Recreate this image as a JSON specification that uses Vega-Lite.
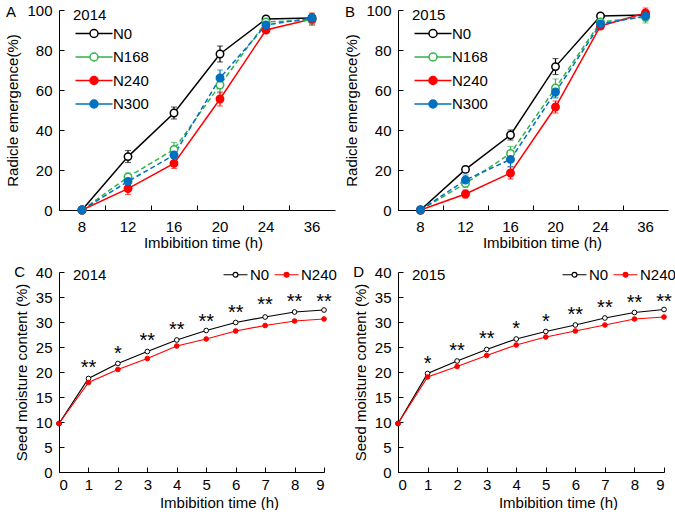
{
  "$schema": "https://vega.github.io/schema/vega-lite/v6.json",
  "padding": {"left": 5, "top": 3, "right": 0, "bottom": 0},
  "background": "white",
  "config": {
    "font": "Liberation Sans",
    "view": {"stroke": null},
    "axis": {"domainColor": "black", "tickColor": "black", "labelColor": "black", "titleColor": "black", "labelFontSize": 15, "titleFontSize": 15, "titleFontWeight": "normal", "grid": false, "tickSize": -5, "domainWidth": 1, "tickWidth": 1},
    "axisY": {"labelPadding": 12, "titlePadding": 6},
    "legend": {"labelFontSize": 15, "titleFontSize": 15, "titleFontWeight": "normal", "labelColor": "black", "titleColor": "black"},
    "title": {"fontSize": 15, "fontWeight": "normal", "color": "black"}
  },
  "datasets": {
    "y2014": [
      {"t": 8, "N": "N0", "v": 0, "e": 0}, {"t": 12, "N": "N0", "v": 26.7, "e": 3}, {"t": 16, "N": "N0", "v": 48.5, "e": 3}, {"t": 20, "N": "N0", "v": 78, "e": 4}, {"t": 24, "N": "N0", "v": 95.5, "e": 1}, {"t": 36, "N": "N0", "v": 96, "e": 1.5},
      {"t": 8, "N": "N168", "v": 0, "e": 0}, {"t": 12, "N": "N168", "v": 16.5, "e": 2}, {"t": 16, "N": "N168", "v": 30.3, "e": 3.5}, {"t": 20, "N": "N168", "v": 62.5, "e": 4}, {"t": 24, "N": "N168", "v": 94, "e": 1.5}, {"t": 36, "N": "N168", "v": 95, "e": 2.5},
      {"t": 8, "N": "N240", "v": 0, "e": 0}, {"t": 12, "N": "N240", "v": 10.7, "e": 3}, {"t": 16, "N": "N240", "v": 23.3, "e": 2.5}, {"t": 20, "N": "N240", "v": 55.5, "e": 3.5}, {"t": 24, "N": "N240", "v": 90, "e": 1.5}, {"t": 36, "N": "N240", "v": 95.5, "e": 3},
      {"t": 8, "N": "N300", "v": 0, "e": 0}, {"t": 12, "N": "N300", "v": 14.3, "e": 2}, {"t": 16, "N": "N300", "v": 27.5, "e": 3}, {"t": 20, "N": "N300", "v": 66, "e": 4}, {"t": 24, "N": "N300", "v": 92.5, "e": 1.5}, {"t": 36, "N": "N300", "v": 96, "e": 2}
    ],
    "y2015": [
      {"t": 8, "N": "N0", "v": 0, "e": 0}, {"t": 12, "N": "N0", "v": 20.3, "e": 1.5}, {"t": 16, "N": "N0", "v": 37.5, "e": 2.5}, {"t": 20, "N": "N0", "v": 71.7, "e": 4}, {"t": 24, "N": "N0", "v": 97, "e": 0.5}, {"t": 36, "N": "N0", "v": 97.5, "e": 1},
      {"t": 8, "N": "N168", "v": 0, "e": 0}, {"t": 12, "N": "N168", "v": 13.3, "e": 2}, {"t": 16, "N": "N168", "v": 28.3, "e": 3.5}, {"t": 20, "N": "N168", "v": 61, "e": 4.5}, {"t": 24, "N": "N168", "v": 94, "e": 1.5}, {"t": 36, "N": "N168", "v": 96.5, "e": 3},
      {"t": 8, "N": "N240", "v": 0, "e": 0}, {"t": 12, "N": "N240", "v": 8, "e": 2}, {"t": 16, "N": "N240", "v": 18.5, "e": 3}, {"t": 20, "N": "N240", "v": 51.5, "e": 3}, {"t": 24, "N": "N240", "v": 92, "e": 1.5}, {"t": 36, "N": "N240", "v": 98.5, "e": 2.5},
      {"t": 8, "N": "N300", "v": 0, "e": 0}, {"t": 12, "N": "N300", "v": 15, "e": 2.5}, {"t": 16, "N": "N300", "v": 25.3, "e": 3.5}, {"t": 20, "N": "N300", "v": 59, "e": 3}, {"t": 24, "N": "N300", "v": 93, "e": 1.5}, {"t": 36, "N": "N300", "v": 97, "e": 2.5}
    ],
    "m2014": [
      {"t": 0, "N": "N0", "v": 9.7}, {"t": 1, "N": "N0", "v": 18.7}, {"t": 2, "N": "N0", "v": 21.7}, {"t": 3, "N": "N0", "v": 24.1}, {"t": 4, "N": "N0", "v": 26.4}, {"t": 5, "N": "N0", "v": 28.3}, {"t": 6, "N": "N0", "v": 29.9}, {"t": 7, "N": "N0", "v": 31.0}, {"t": 8, "N": "N0", "v": 32.0}, {"t": 9, "N": "N0", "v": 32.4},
      {"t": 0, "N": "N240", "v": 9.7}, {"t": 1, "N": "N240", "v": 17.9}, {"t": 2, "N": "N240", "v": 20.5}, {"t": 3, "N": "N240", "v": 22.7}, {"t": 4, "N": "N240", "v": 25.2}, {"t": 5, "N": "N240", "v": 26.6}, {"t": 6, "N": "N240", "v": 28.2}, {"t": 7, "N": "N240", "v": 29.3}, {"t": 8, "N": "N240", "v": 30.2}, {"t": 9, "N": "N240", "v": 30.6}
    ],
    "m2015": [
      {"t": 0, "N": "N0", "v": 9.7}, {"t": 1, "N": "N0", "v": 19.7}, {"t": 2, "N": "N0", "v": 22.2}, {"t": 3, "N": "N0", "v": 24.5}, {"t": 4, "N": "N0", "v": 26.6}, {"t": 5, "N": "N0", "v": 28.1}, {"t": 6, "N": "N0", "v": 29.4}, {"t": 7, "N": "N0", "v": 30.8}, {"t": 8, "N": "N0", "v": 31.9}, {"t": 9, "N": "N0", "v": 32.5},
      {"t": 0, "N": "N240", "v": 9.7}, {"t": 1, "N": "N240", "v": 19.0}, {"t": 2, "N": "N240", "v": 21.1}, {"t": 3, "N": "N240", "v": 23.3}, {"t": 4, "N": "N240", "v": 25.4}, {"t": 5, "N": "N240", "v": 27.0}, {"t": 6, "N": "N240", "v": 28.2}, {"t": 7, "N": "N240", "v": 29.4}, {"t": 8, "N": "N240", "v": 30.6}, {"t": 9, "N": "N240", "v": 31.0}
    ],
    "s2014": [
      {"t": 1, "s": "**", "v": 21.9}, {"t": 2, "s": "*", "v": 24.7}, {"t": 3, "s": "**", "v": 27.2}, {"t": 4, "s": "**", "v": 29.4}, {"t": 5, "s": "**", "v": 31.1}, {"t": 6, "s": "**", "v": 32.9}, {"t": 7, "s": "**", "v": 34.4}, {"t": 8, "s": "**", "v": 35.1}, {"t": 9, "s": "**", "v": 35.1}
    ],
    "s2015": [
      {"t": 1, "s": "*", "v": 22.7}, {"t": 2, "s": "**", "v": 25.3}, {"t": 3, "s": "**", "v": 27.6}, {"t": 4, "s": "*", "v": 29.6}, {"t": 5, "s": "*", "v": 31.1}, {"t": 6, "s": "**", "v": 32.4}, {"t": 7, "s": "**", "v": 33.8}, {"t": 8, "s": "**", "v": 34.9}, {"t": 9, "s": "**", "v": 35.1}
    ]
  },
  "columns": 2,
  "spacing": {"row": 62, "column": 63},
  "bounds": "flush",
  "resolve": {
    "scale": {"x": "independent", "y": "independent", "color": "independent", "fill": "independent"},
    "axis": {"x": "independent", "y": "independent"},
    "legend": {"color": "independent", "fill": "independent"}
  },
  "concat": [
    {
      "width": 276, "height": 200,
      "title": {"text": "A", "anchor": "start", "frame": "bounds", "offset": -17},
      "data": {"name": "y2014"},
      "encoding": {
        "x": {"field": "t", "type": "ordinal", "bandPosition": 0.5, "scale": {"type": "band", "paddingInner": 0, "paddingOuter": 0}, "axis": {"title": "Imbibition time (h)", "bandPosition": 0, "labelAngle": 0, "titleX": 144, "labelPadding": 14, "titlePadding": 1}},
        "y": {"field": "v", "type": "quantitative", "scale": {"domain": [0, 100]}, "axis": {"values": [0, 20, 40, 60, 80, 100], "title": "Radicle emergence(%)"}},
        "color": {"field": "N", "type": "nominal", "scale": {"domain": ["N0", "N168", "N240", "N300"], "range": ["#000000", "#33b34a", "#ff0000", "#0070c0"]},
          "legend": {"title": "2014", "orient": "none", "legendX": 14, "legendY": -2, "symbolType": "M-1,0H1.9M3.5,0H6.4M3.5,0A0.8,0.8,0,1,1,1.9,0A0.8,0.8,0,1,1,3.5,0Z", "symbolSize": 100, "symbolStrokeWidth": 1.5, "symbolOpacity": 1, "labelOffset": 25, "rowPadding": 7.5, "titlePadding": 3}}
      },
      "layer": [
        {"transform": [{"filter": {"field": "N", "oneOf": ["N0", "N240"]}}], "mark": {"type": "line", "strokeWidth": 1.5}},
        {"transform": [{"filter": {"field": "N", "oneOf": ["N168", "N300"]}}], "mark": {"type": "line", "strokeWidth": 1.5, "strokeDash": [5, 3]}},
        {"transform": [{"filter": {"field": "N", "equal": "N0"}}], "mark": {"type": "errorbar", "ticks": {"size": 6}, "rule": {"strokeWidth": 1.2}}, "encoding": {"yError": {"field": "e"}, "color": {"value": "#000000"}}},
        {"transform": [{"filter": {"field": "N", "equal": "N168"}}], "mark": {"type": "errorbar", "ticks": {"size": 6}, "rule": {"strokeWidth": 1.2}}, "encoding": {"yError": {"field": "e"}, "color": {"value": "#33b34a"}}},
        {"transform": [{"filter": {"field": "N", "equal": "N240"}}], "mark": {"type": "errorbar", "ticks": {"size": 6}, "rule": {"strokeWidth": 1.2}}, "encoding": {"yError": {"field": "e"}, "color": {"value": "#ff0000"}}},
        {"transform": [{"filter": {"field": "N", "equal": "N300"}}], "mark": {"type": "errorbar", "ticks": {"size": 6}, "rule": {"strokeWidth": 1.2}}, "encoding": {"yError": {"field": "e"}, "color": {"value": "#0070c0"}}},
        {"mark": {"type": "point", "filled": false, "size": 55, "strokeWidth": 1.5, "opacity": 1}, "encoding": {"fill": {"field": "N", "type": "nominal", "scale": {"domain": ["N0", "N168", "N240", "N300"], "range": ["#ffffff", "#ffffff", "#ff0000", "#0070c0"]},
          "legend": {"title": "2014", "orient": "none", "legendX": 14, "legendY": -2, "symbolType": "M-1,0H1.9M3.5,0H6.4M3.5,0A0.8,0.8,0,1,1,1.9,0A0.8,0.8,0,1,1,3.5,0Z", "symbolSize": 100, "symbolStrokeWidth": 1.5, "symbolOpacity": 1, "labelOffset": 25, "rowPadding": 7.5, "titlePadding": 3}}}}
      ]
    },
    {
      "width": 270, "height": 200,
      "title": {"text": "B", "anchor": "start", "frame": "bounds", "offset": -17},
      "data": {"name": "y2015"},
      "encoding": {
        "x": {"field": "t", "type": "ordinal", "bandPosition": 0.5, "scale": {"type": "band", "paddingInner": 0, "paddingOuter": 0}, "axis": {"title": "Imbibition time (h)", "bandPosition": 0, "labelAngle": 0, "titleX": 144, "labelPadding": 14, "titlePadding": 1}},
        "y": {"field": "v", "type": "quantitative", "scale": {"domain": [0, 100]}, "axis": {"values": [0, 20, 40, 60, 80, 100], "title": "Radicle emergence(%)"}},
        "color": {"field": "N", "type": "nominal", "scale": {"domain": ["N0", "N168", "N240", "N300"], "range": ["#000000", "#33b34a", "#ff0000", "#0070c0"]},
          "legend": {"title": "2015", "orient": "none", "legendX": 14, "legendY": -2, "symbolType": "M-1,0H1.9M3.5,0H6.4M3.5,0A0.8,0.8,0,1,1,1.9,0A0.8,0.8,0,1,1,3.5,0Z", "symbolSize": 100, "symbolStrokeWidth": 1.5, "symbolOpacity": 1, "labelOffset": 25, "rowPadding": 7.5, "titlePadding": 3}}
      },
      "layer": [
        {"transform": [{"filter": {"field": "N", "oneOf": ["N0", "N240"]}}], "mark": {"type": "line", "strokeWidth": 1.5}},
        {"transform": [{"filter": {"field": "N", "oneOf": ["N168", "N300"]}}], "mark": {"type": "line", "strokeWidth": 1.5, "strokeDash": [5, 3]}},
        {"transform": [{"filter": {"field": "N", "equal": "N0"}}], "mark": {"type": "errorbar", "ticks": {"size": 6}, "rule": {"strokeWidth": 1.2}}, "encoding": {"yError": {"field": "e"}, "color": {"value": "#000000"}}},
        {"transform": [{"filter": {"field": "N", "equal": "N168"}}], "mark": {"type": "errorbar", "ticks": {"size": 6}, "rule": {"strokeWidth": 1.2}}, "encoding": {"yError": {"field": "e"}, "color": {"value": "#33b34a"}}},
        {"transform": [{"filter": {"field": "N", "equal": "N240"}}], "mark": {"type": "errorbar", "ticks": {"size": 6}, "rule": {"strokeWidth": 1.2}}, "encoding": {"yError": {"field": "e"}, "color": {"value": "#ff0000"}}},
        {"transform": [{"filter": {"field": "N", "equal": "N300"}}], "mark": {"type": "errorbar", "ticks": {"size": 6}, "rule": {"strokeWidth": 1.2}}, "encoding": {"yError": {"field": "e"}, "color": {"value": "#0070c0"}}},
        {"mark": {"type": "point", "filled": false, "size": 55, "strokeWidth": 1.5, "opacity": 1}, "encoding": {"fill": {"field": "N", "type": "nominal", "scale": {"domain": ["N0", "N168", "N240", "N300"], "range": ["#ffffff", "#ffffff", "#ff0000", "#0070c0"]},
          "legend": {"title": "2015", "orient": "none", "legendX": 14, "legendY": -2, "symbolType": "M-1,0H1.9M3.5,0H6.4M3.5,0A0.8,0.8,0,1,1,1.9,0A0.8,0.8,0,1,1,3.5,0Z", "symbolSize": 100, "symbolStrokeWidth": 1.5, "symbolOpacity": 1, "labelOffset": 25, "rowPadding": 7.5, "titlePadding": 3}}}}
      ]
    },
    {
      "width": 265, "height": 200,
      "title": {"text": "C", "anchor": "start", "frame": "bounds", "offset": -15},
      "encoding": {
        "x": {"field": "t", "type": "quantitative", "scale": {"domain": [0, 9], "nice": false}, "axis": {"values": [0, 1, 2, 3, 4, 5, 6, 7, 8, 9], "title": "Imbibition time (h)", "titleX": 160, "labelPadding": 10, "titlePadding": 3}},
        "y": {"field": "v", "type": "quantitative", "scale": {"domain": [0, 40]}, "axis": {"values": [0, 5, 10, 15, 20, 25, 30, 35, 40], "title": "Seed moisture content (%)"}}
      },
      "layer": [
        {"data": {"name": "m2014"}, "mark": {"type": "line", "strokeWidth": 1.2},
          "encoding": {"color": {"field": "N", "type": "nominal", "scale": {"domain": ["N0", "N240"], "range": ["#000000", "#ff0000"]},
            "legend": {"title": "2014", "titleOrient": "left", "titlePadding": 112, "orient": "none", "legendX": 14, "legendY": -5, "direction": "horizontal", "symbolType": "M-1,0H2.2M3.8,0H7M3.8,0A0.8,0.8,0,1,1,2.2,0A0.8,0.8,0,1,1,3.8,0Z", "symbolSize": 36, "symbolStrokeWidth": 1.2, "symbolOpacity": 1, "labelOffset": 16, "columnPadding": -13}}}},
        {"data": {"name": "m2014"}, "mark": {"type": "point", "filled": false, "size": 22, "strokeWidth": 1, "opacity": 1},
          "encoding": {"color": {"field": "N", "type": "nominal", "scale": {"domain": ["N0", "N240"], "range": ["#000000", "#ff0000"]},
            "legend": {"title": "2014", "titleOrient": "left", "titlePadding": 112, "orient": "none", "legendX": 14, "legendY": -5, "direction": "horizontal", "symbolType": "M-1,0H2.2M3.8,0H7M3.8,0A0.8,0.8,0,1,1,2.2,0A0.8,0.8,0,1,1,3.8,0Z", "symbolSize": 36, "symbolStrokeWidth": 1.2, "symbolOpacity": 1, "labelOffset": 16, "columnPadding": -13}},
            "fill": {"field": "N", "type": "nominal", "scale": {"domain": ["N0", "N240"], "range": ["#ffffff", "#ff0000"]},
            "legend": {"title": "2014", "titleOrient": "left", "titlePadding": 112, "orient": "none", "legendX": 14, "legendY": -5, "direction": "horizontal", "symbolType": "M-1,0H2.2M3.8,0H7M3.8,0A0.8,0.8,0,1,1,2.2,0A0.8,0.8,0,1,1,3.8,0Z", "symbolSize": 36, "symbolStrokeWidth": 1.2, "symbolOpacity": 1, "labelOffset": 16, "columnPadding": -13}}}},
        {"data": {"name": "s2014"}, "mark": {"type": "text", "fontSize": 20, "dy": 11, "baseline": "alphabetic", "color": "black"},
          "encoding": {"text": {"field": "s", "type": "nominal"}}}
      ]
    },
    {
      "width": 266, "height": 200,
      "title": {"text": "D", "anchor": "start", "frame": "bounds", "offset": -15},
      "encoding": {
        "x": {"field": "t", "type": "quantitative", "scale": {"domain": [0, 9], "nice": false}, "axis": {"values": [0, 1, 2, 3, 4, 5, 6, 7, 8, 9], "title": "Imbibition time (h)", "titleX": 160, "labelPadding": 10, "titlePadding": 3}},
        "y": {"field": "v", "type": "quantitative", "scale": {"domain": [0, 40]}, "axis": {"values": [0, 5, 10, 15, 20, 25, 30, 35, 40], "title": "Seed moisture content (%)"}}
      },
      "layer": [
        {"data": {"name": "m2015"}, "mark": {"type": "line", "strokeWidth": 1.2},
          "encoding": {"color": {"field": "N", "type": "nominal", "scale": {"domain": ["N0", "N240"], "range": ["#000000", "#ff0000"]},
            "legend": {"title": "2015", "titleOrient": "left", "titlePadding": 112, "orient": "none", "legendX": 14, "legendY": -5, "direction": "horizontal", "symbolType": "M-1,0H2.2M3.8,0H7M3.8,0A0.8,0.8,0,1,1,2.2,0A0.8,0.8,0,1,1,3.8,0Z", "symbolSize": 36, "symbolStrokeWidth": 1.2, "symbolOpacity": 1, "labelOffset": 16, "columnPadding": -13}}}},
        {"data": {"name": "m2015"}, "mark": {"type": "point", "filled": false, "size": 22, "strokeWidth": 1, "opacity": 1},
          "encoding": {"color": {"field": "N", "type": "nominal", "scale": {"domain": ["N0", "N240"], "range": ["#000000", "#ff0000"]},
            "legend": {"title": "2015", "titleOrient": "left", "titlePadding": 112, "orient": "none", "legendX": 14, "legendY": -5, "direction": "horizontal", "symbolType": "M-1,0H2.2M3.8,0H7M3.8,0A0.8,0.8,0,1,1,2.2,0A0.8,0.8,0,1,1,3.8,0Z", "symbolSize": 36, "symbolStrokeWidth": 1.2, "symbolOpacity": 1, "labelOffset": 16, "columnPadding": -13}},
            "fill": {"field": "N", "type": "nominal", "scale": {"domain": ["N0", "N240"], "range": ["#ffffff", "#ff0000"]},
            "legend": {"title": "2015", "titleOrient": "left", "titlePadding": 112, "orient": "none", "legendX": 14, "legendY": -5, "direction": "horizontal", "symbolType": "M-1,0H2.2M3.8,0H7M3.8,0A0.8,0.8,0,1,1,2.2,0A0.8,0.8,0,1,1,3.8,0Z", "symbolSize": 36, "symbolStrokeWidth": 1.2, "symbolOpacity": 1, "labelOffset": 16, "columnPadding": -13}}}},
        {"data": {"name": "s2015"}, "mark": {"type": "text", "fontSize": 20, "dy": 11, "baseline": "alphabetic", "color": "black"},
          "encoding": {"text": {"field": "s", "type": "nominal"}}}
      ]
    }
  ]
}
